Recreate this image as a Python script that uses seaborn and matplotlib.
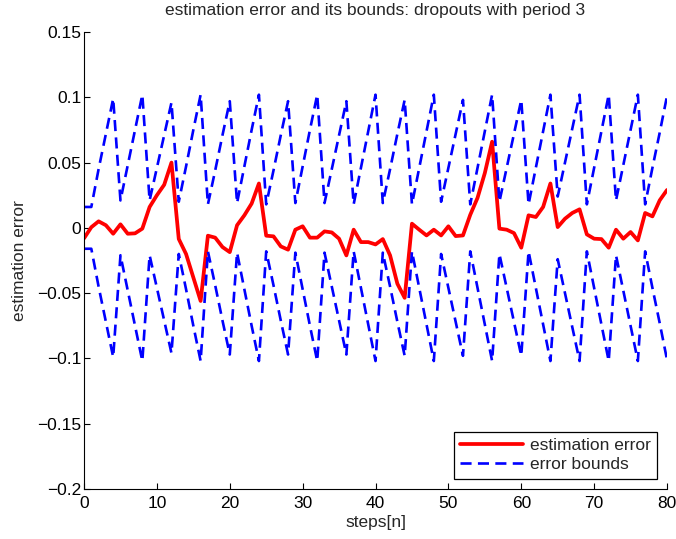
import numpy as np
import pandas as pd
import matplotlib
matplotlib.use("Agg")
import matplotlib.pyplot as plt
import seaborn as sns

steps = list(range(0, 81))

estimation_error = [
    -0.008, 0.0005, 0.005, 0.002, -0.0045, 0.0027, -0.0045, -0.0042, -0.0006, 0.016,
    0.025, 0.033, 0.050, -0.0085, -0.020, -0.038, -0.056, -0.006, -0.0075, -0.0147,
    -0.0186, 0.002, 0.0096, 0.0186, 0.034, -0.006, -0.0065, -0.0142, -0.0167, -0.0014,
    0.0012, -0.0075, -0.0075, -0.0027, -0.0035, -0.0083, -0.0211, -0.0014, -0.0109, -0.0109,
    -0.0127, -0.0086, -0.0211, -0.0428, -0.0536, 0.0032, -0.0014, -0.0058, -0.0014, -0.0058,
    0.0012, -0.0063, -0.0058, 0.010, 0.023, 0.042, 0.066, -0.0006, -0.0014, -0.004,
    -0.0152, 0.0096, 0.0083, 0.016, 0.034, 0.0006, 0.007, 0.0114, 0.0142, -0.005,
    -0.0083, -0.0086, -0.0152, -0.0014, -0.0083, -0.0032, -0.0096, 0.0114, 0.0088, 0.0211,
    0.029,
]

upper_bound = [
    0.016, 0.016, 0.045, 0.072, 0.099,
    0.021, 0.048, 0.075, 0.102,
    0.021, 0.046, 0.071, 0.096,
    0.020, 0.047, 0.075, 0.102,
    0.018, 0.044, 0.071, 0.097,
    0.019, 0.047, 0.075, 0.102,
    0.018, 0.044, 0.071, 0.097,
    0.019, 0.047, 0.075, 0.102,
    0.019, 0.045, 0.071, 0.097,
    0.018, 0.046, 0.074, 0.102,
    0.019, 0.045, 0.072, 0.098,
    0.018, 0.046, 0.074, 0.102,
    0.020, 0.046, 0.072, 0.098,
    0.018, 0.046, 0.074, 0.102,
    0.020, 0.046, 0.072, 0.098,
    0.018, 0.046, 0.074, 0.102,
    0.024, 0.050, 0.076, 0.102,
    0.018, 0.046, 0.074, 0.102,
    0.021, 0.048, 0.075, 0.102,
    0.018, 0.046, 0.073, 0.101,
]
lower_bound = [-v for v in upper_bound]

x_ticks = [0, 10, 20, 30, 40, 50, 60, 70, 80]
y_ticks = [-0.2, -0.15, -0.1, -0.05, 0, 0.05, 0.1, 0.15]
y_tick_labels = ["\u22120.2", "\u22120.15", "\u22120.1", "\u22120.05", "0", "0.05", "0.1", "0.15"]

sns.set_style("ticks")
plt.rcParams["font.family"] = ["Liberation Sans", "DejaVu Sans"]
plt.rcParams["axes.unicode_minus"] = True

FS = 12.5

fig = plt.figure(figsize=(6.76, 5.39), dpi=100)
ax = fig.add_axes([0.1243, 0.0928, 0.8624, 0.8478])

df = pd.DataFrame({"step": steps, "err": estimation_error,
                   "up": upper_bound, "lo": lower_bound})

sns.lineplot(data=df, x="step", y="err", ax=ax, color="#ff0000", linewidth=2.7,
             label="estimation error")
sns.lineplot(data=df, x="step", y="up", ax=ax, color="#0000ff", linewidth=1.9,
             linestyle=(0, (4.2, 2.4)), label="error bounds")
sns.lineplot(data=df, x="step", y="lo", ax=ax, color="#0000ff", linewidth=1.9,
             linestyle=(0, (4.2, 2.4)), label="_nolegend_")

ax.set_xlim(0, 80)
ax.set_ylim(-0.2, 0.15)
ax.set_xticks(x_ticks)
ax.set_xticklabels([str(t) for t in x_ticks])
ax.set_yticks(y_ticks)
ax.set_yticklabels(y_tick_labels)
ax.tick_params(direction="in", length=4, width=0.8, labelsize=FS, colors="black", pad=2)
ax.tick_params(axis="x", pad=5)
for s in ["top", "right"]:
    ax.spines[s].set_visible(False)
for s in ["left", "bottom"]:
    ax.spines[s].set_color("black")
    ax.spines[s].set_linewidth(0.8)

ax.set_xlabel("steps[n]", fontsize=FS, labelpad=3)
ax.set_ylabel("estimation error", fontsize=FS, labelpad=7)
ax.set_title("estimation error and its bounds: dropouts with period 3", fontsize=FS, pad=12)

leg = ax.legend(loc="lower right", fontsize=FS, frameon=True, fancybox=False,
                edgecolor="black", framealpha=1, handlelength=3.6,
                borderaxespad=0.6, borderpad=0.35, labelspacing=0.25, handletextpad=0.4)
leg.get_frame().set_linewidth(0.9)

fig.savefig("out.png", dpi=100)
